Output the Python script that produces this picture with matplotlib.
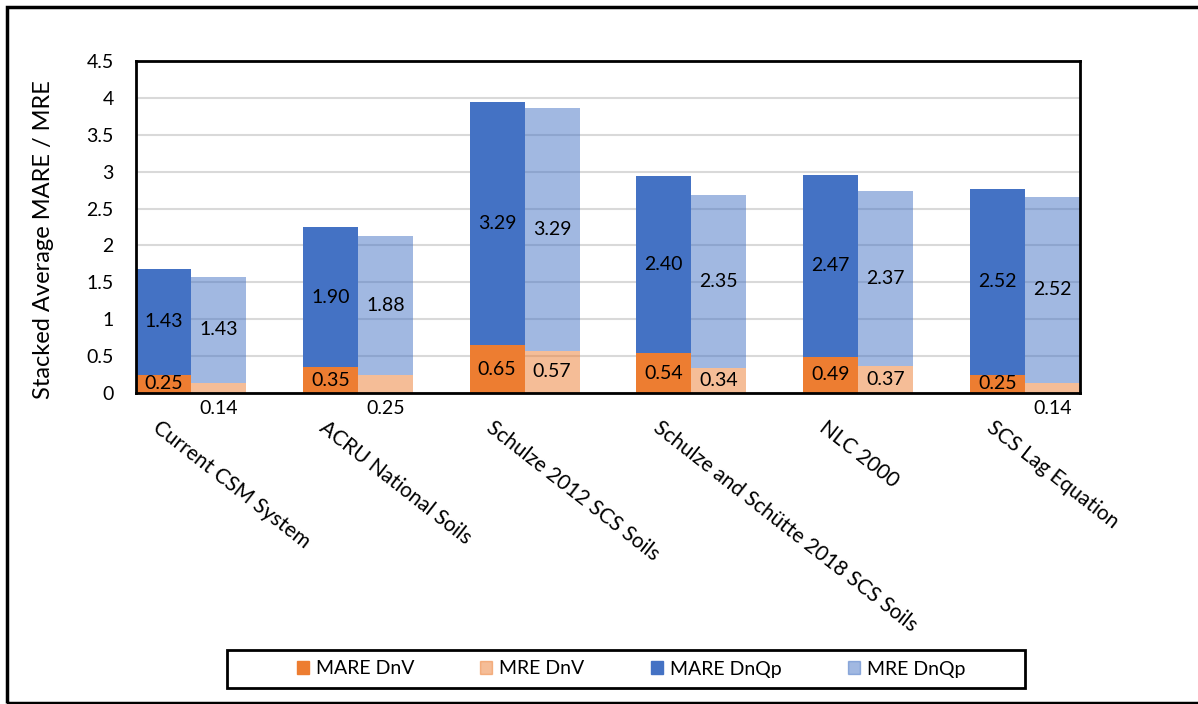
import matplotlib.pyplot as plt
import matplotlib.transforms as mtransforms
from matplotlib.patches import Rectangle, Patch
import numpy as np

# 모델별 평균 오차 (DnV 아래, DnQp 위로 누적)
models = ['Current CSM System', 'ACRU National Soils', 'Schulze 2012 SCS Soils',
          'Schulze and Schütte 2018 SCS Soils', 'NLC 2000', 'SCS Lag Equation']
mare_dnv = [0.25, 0.35, 0.65, 0.54, 0.49, 0.25]
mre_dnv = [0.14, 0.25, 0.57, 0.34, 0.37, 0.14]
mare_dnqp = [1.43, 1.90, 3.29, 2.40, 2.47, 2.52]
mre_dnqp = [1.43, 1.88, 3.29, 2.35, 2.37, 2.52]
y_ticks = [0, 0.5, 1, 1.5, 2, 2.5, 3, 3.5, 4, 4.5]
y_tick_labels = ['0', '0.5', '1', '1.5', '2', '2.5', '3', '3.5', '4', '4.5']

orange = '#ED7D31'
blue = '#4472C4'

plt.rcParams['font.family'] = ['Lato', 'DejaVu Sans']
fs = 14

fig = plt.figure(figsize=(11.98, 7.04), dpi=100)
ax = fig.add_axes([136 / 1198, 1 - 393 / 704, 944 / 1198, 332 / 704])

x = np.arange(len(models))
w = 0.33

# MARE 막대(진한 색)와 MRE 막대(반투명)
ax.bar(x - w / 2, mare_dnv, w, color=orange, zorder=2)
ax.bar(x - w / 2, mare_dnqp, w, bottom=mare_dnv, color=blue, zorder=2)
ax.bar(x + w / 2, mre_dnv, w, color=orange, alpha=0.5, linewidth=0, zorder=2)
ax.bar(x + w / 2, mre_dnqp, w, bottom=mre_dnv, color=blue, alpha=0.5, linewidth=0, zorder=2)

# 막대 위 값 표시
below = [True, True, False, False, False, True]
for i in range(len(models)):
    ax.text(x[i] - w / 2, mare_dnv[i] / 2, f'{mare_dnv[i]:.2f}', ha='center', va='center',
            fontsize=fs, zorder=3)
    ax.text(x[i] - w / 2, mare_dnv[i] + mare_dnqp[i] / 2, f'{mare_dnqp[i]:.2f}',
            ha='center', va='center', fontsize=fs, zorder=3)
    ymre = -0.21 if below[i] else mre_dnv[i] / 2
    ax.text(x[i] + w / 2, ymre, f'{mre_dnv[i]:.2f}', ha='center', va='center',
            fontsize=fs, zorder=3, clip_on=False)
    ax.text(x[i] + w / 2, mre_dnv[i] + mre_dnqp[i] / 2, f'{mre_dnqp[i]:.2f}',
            ha='center', va='center', fontsize=fs, zorder=3)

ax.set_xlim(-w, len(models) - 1 + w)
ax.set_ylim(0, 4.5)
ax.set_yticks(y_ticks)
ax.set_yticklabels(y_tick_labels, fontsize=fs)
ax.set_xticks([])
ax.tick_params(axis='y', length=0, pad=16)
ax.grid(axis='y', color='#D9D9D9', linewidth=1.5, zorder=0)
ax.set_axisbelow(True)
for s in ax.spines.values():
    s.set_linewidth(2)
    s.set_color('black')
    s.set_zorder(4)

# 기울어진 카테고리 이름
trans = mtransforms.blended_transform_factory(ax.transData, ax.transAxes)
for i, name in enumerate(models):
    ax.text(x[i] - 0.18, -0.072, name, transform=trans, rotation=-38,
            rotation_mode='anchor', ha='left', va='top', fontsize=15, clip_on=False)

fig.text(44 / 1198, 1 - 240 / 704, 'Stacked Average MARE / MRE', rotation=90,
         ha='center', va='center', fontsize=17)

# 범례
handles = [Patch(color=orange), Patch(color=orange, alpha=0.5),
           Patch(color=blue), Patch(color=blue, alpha=0.5)]
labels = ['MARE DnV', 'MRE DnV', 'MARE DnQp', 'MRE DnQp']
fig.legend(handles, labels, loc='center', bbox_to_anchor=(631 / 1198, 1 - 669 / 704),
           ncol=4, frameon=False, fontsize=fs, handlelength=0.62, handleheight=0.62,
           handletextpad=0.36, columnspacing=3.4)
fig.patches.append(Rectangle((227 / 1198, 1 - 688 / 704), 798 / 1198, 38 / 704,
                             transform=fig.transFigure, fill=False, edgecolor='black',
                             linewidth=2))

# 바깥 테두리
fig.patches.append(Rectangle((7 / 1198, 1 - 703 / 704), 1200 / 1198, 696 / 704,
                             transform=fig.transFigure, fill=False, edgecolor='black',
                             linewidth=2.5))

fig.savefig('out.png', dpi=100)
